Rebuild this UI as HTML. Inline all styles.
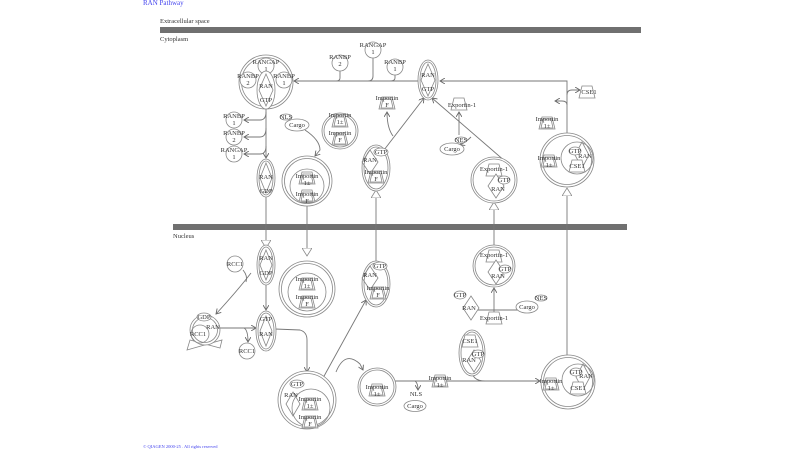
<!DOCTYPE html>
<html><head><meta charset="utf-8"><style>
html,body{margin:0;padding:0;background:#fff;width:800px;height:450px;overflow:hidden}
svg{display:block}
text{font-family:"Liberation Serif",serif;font-size:6.5px;fill:#333;text-anchor:middle}
.s{fill:none;stroke:#888;stroke-width:0.8}
.l{fill:none;stroke:#777;stroke-width:0.9}
.w{fill:#fff;stroke:#888;stroke-width:0.8}
</style></head><body>
<svg width="800" height="450" viewBox="0 0 800 450">
<defs>
<marker id="a" markerWidth="6" markerHeight="6" refX="5" refY="3" orient="auto" markerUnits="userSpaceOnUse"><path d="M0,0 L5,3 L0,6" fill="none" stroke="#666" stroke-width="0.9"/></marker>
<marker id="t" markerWidth="10" markerHeight="10" refX="8" refY="5" orient="auto" markerUnits="userSpaceOnUse"><path d="M0,0 L8,5 L0,10 Z" fill="#fff" stroke="#888" stroke-width="0.8"/></marker>
<g id="trap"><path d="M-5,-6 L5,-6 L8,6 L-8,6 Z" class="w"/><path d="M-4,-4 L4,-4 L6,5 L-6,5 Z" class="s"/></g>
<g id="trap1"><path d="M-5,-6 L5,-6 L8,6 L-8,6 Z" class="w"/></g>
<g id="dia"><path d="M0,-12 L8,0 L0,12 L-8,0 Z" class="w"/></g>
</defs>
<text x="143" y="5" style="fill:#4444ee;font-size:7px;text-anchor:start">RAN Pathway</text>
<text x="160" y="23" style="text-anchor:start">Extracellular space</text>
<rect x="160" y="27" width="481" height="6" fill="#707070"/>
<text x="160" y="41" style="text-anchor:start">Cytoplasm</text>
<rect x="173" y="224" width="454" height="6" fill="#707070"/>
<text x="173" y="238" style="text-anchor:start">Nucleus</text>
<text x="143" y="448" style="fill:#4444ee;font-size:4.5px;text-anchor:start">© QIAGEN 2000-25 . All rights reserved</text>

<!-- connectors cytoplasm -->
<path class="l" d="M567,134 L567,81 L440,81" marker-end="url(#a)"/>
<path class="l" d="M418,81 L294,81" marker-end="url(#a)"/>
<path class="l" d="M340,71 L340,78 Q340,81 336,81"/>
<path class="l" d="M373,58 L373,76 Q373,81 368,81"/>
<path class="l" d="M395,75 L395,78 Q395,81 390,81"/>
<path class="l" d="M567,95 Q567,90 572,90 L580,90" marker-end="url(#a)"/>
<path class="l" d="M567,105 Q567,101 562,101 L555,101" marker-end="url(#a)"/>
<path class="l" d="M266,109 L266,158" marker-end="url(#a)"/>
<path class="l" d="M266,112 Q266,120 260,120 L244,120" marker-end="url(#a)"/>
<path class="l" d="M266,128 Q266,137 260,137 L244,137" marker-end="url(#a)"/>
<path class="l" d="M266,146 Q266,154 260,154 L244,154" marker-end="url(#a)"/>
<path class="l" d="M305,130 Q320,140 320,150 L315,156" marker-end="url(#a)"/>
<path class="l" d="M384,150 L424,98" marker-end="url(#a)"/>
<path class="l" d="M393,136 Q387,128 387,112" marker-end="url(#a)"/>
<path class="l" d="M506,162 L432,98" marker-end="url(#a)"/>
<path class="l" d="M459,135 L459,112" marker-end="url(#a)"/>
<path class="l" d="M471,137 Q466,142 460,145" marker-end="url(#a)"/>
<path class="l" d="M266,196 L266,248" marker-end="url(#t)"/>
<path class="l" d="M307,206 L307,256" marker-end="url(#t)"/>
<path class="l" d="M376,262 L376,190" marker-end="url(#t)"/>
<path class="l" d="M494,246 L494,202" marker-end="url(#t)"/>
<path class="l" d="M567,360 L567,188" marker-end="url(#t)"/>
<!-- nucleus connectors -->
<path class="l" d="M266,284 L266,310" marker-end="url(#a)"/>
<path class="l" d="M251,273 Q238,290 216,314" marker-end="url(#a)"/>
<path class="l" d="M243,270 Q248,276 246,282"/>
<path class="l" d="M218,328 L256,328" marker-end="url(#a)"/>
<path class="l" d="M244,328 Q248,330 248,342" marker-end="url(#a)"/>
<path class="l" d="M275,329 L300,330 Q307,332 307,340 L307,372" marker-end="url(#a)"/>
<path class="l" d="M307,262 L307,280"/>
<path class="l" d="M323,378 L366,300" marker-end="url(#a)"/>
<path class="l" d="M336,372 Q345,350 360,364 L363,370" marker-end="url(#a)"/>
<path class="l" d="M395,381 L540,381" marker-end="url(#a)"/>
<path class="l" d="M415,381 Q418,383 418,390" marker-end="url(#a)"/>
<path class="l" d="M472,370 Q472,381 485,381"/>
<path class="l" d="M478,310 L518,310"/>
<path class="l" d="M494,312 L494,288" marker-end="url(#a)"/>

<!-- Complex A -->
<circle cx="266" cy="82" r="27" class="w"/><circle cx="266" cy="82" r="24.5" class="s"/>
<circle cx="266" cy="66" r="8" class="w"/><text x="266" y="64">RANGAP</text><text x="266" y="71">1</text>
<circle cx="248" cy="80" r="8" class="w"/><text x="248" y="78">RANBP</text><text x="248" y="85">2</text>
<circle cx="284" cy="80" r="8" class="w"/><text x="284" y="78">RANBP</text><text x="284" y="85">1</text>
<ellipse cx="266" cy="90" rx="9" ry="19" class="w"/><path d="M266,74 L273,90 L266,106 L259,90 Z" class="s"/>
<text x="266" y="88">RAN</text><text x="266" y="102">GTP</text>
<!-- top small -->
<circle cx="340" cy="63" r="8" class="w"/><text x="340" y="59">RANBP</text><text x="340" y="66">2</text>
<circle cx="373" cy="50" r="8" class="w"/><text x="373" y="47">RANGAP</text><text x="373" y="54">1</text>
<circle cx="395" cy="67" r="8" class="w"/><text x="395" y="64">RANBP</text><text x="395" y="71">1</text>
<!-- RAN GTP top -->
<ellipse cx="428" cy="80" rx="10" ry="20" class="w"/><ellipse cx="428" cy="80" rx="8" ry="18" class="s"/><path d="M428,64 L435,80 L428,96 L421,80 Z" class="s"/>
<text x="428" y="77">RAN</text><text x="428" y="91">GTP</text>
<!-- left list -->
<circle cx="234" cy="120" r="8" class="w"/><text x="234" y="118">RANBP</text><text x="234" y="125">1</text>
<circle cx="234" cy="137" r="8" class="w"/><text x="234" y="135">RANBP</text><text x="234" y="142">2</text>
<circle cx="234" cy="154" r="8" class="w"/><text x="234" y="152">RANGAP</text><text x="234" y="159">1</text>
<!-- RAN GDP -->
<ellipse cx="266" cy="178" rx="9" ry="19" class="w"/><ellipse cx="266" cy="178" rx="7" ry="17" class="s"/><path d="M266,163 L272,178 L266,193 L260,178 Z" class="s"/>
<text x="266" y="179">RAN</text><text x="266" y="193">GDP</text>
<!-- NLS cargo -->
<ellipse cx="297" cy="125" rx="12" ry="6" class="w"/><text x="297" y="127">Cargo</text>
<ellipse cx="286" cy="117" rx="6" ry="3" class="w"/><text x="286" y="119">NLS</text>
<!-- importin complex cyto -->
<circle cx="340" cy="131" r="18" class="w"/><circle cx="340" cy="131" r="16" class="s"/>
<use href="#trap" x="340" y="121"/><use href="#trap" x="340" y="139"/>
<text x="340" y="117">Importin</text><text x="340" y="124">1±</text><text x="340" y="135">Importin</text><text x="340" y="142">F</text>
<!-- complex B -->
<circle cx="307" cy="181" r="25" class="w"/><circle cx="307" cy="181" r="22.5" class="s"/><circle cx="307" cy="186" r="17" class="s"/>
<use href="#trap" x="307" y="178"/><use href="#trap" x="307" y="196"/>
<text x="307" y="178">Importin</text><text x="307" y="185">1±</text><text x="307" y="196">Importin</text><text x="307" y="203">F</text>
<!-- complex C -->
<ellipse cx="376" cy="168" rx="14" ry="23" class="w"/><ellipse cx="376" cy="168" rx="12" ry="21" class="s"/>
<path d="M370,150 L378,162 L370,174 L362,162 Z" class="s"/><use href="#trap" x="376" y="177"/>
<ellipse cx="381" cy="152" rx="7" ry="4" class="w"/><text x="381" y="154">GTP</text>
<text x="370" y="162">RAN</text><text x="376" y="174">Importin</text><text x="376" y="181">F</text>
<use href="#trap" x="387" y="103"/><text x="387" y="100">Importin</text><text x="387" y="107">F</text>
<!-- Exportin / NES -->
<use href="#trap1" x="459" y="104"/><text x="462" y="107">Exportin-1</text>
<ellipse cx="452" cy="149" rx="12" ry="6" class="w"/><text x="452" y="151">Cargo</text>
<ellipse cx="461" cy="140" rx="6" ry="3" class="w"/><text x="461" y="142">NES</text>
<!-- complex D -->
<circle cx="494" cy="180" r="23" class="w"/><circle cx="494" cy="180" r="21" class="s"/>
<use href="#trap1" x="494" y="170"/><use href="#dia" x="496" y="186"/>
<text x="494" y="171">Exportin-1</text><ellipse cx="504" cy="180" rx="6" ry="4" class="w"/><text x="504" y="182">GTP</text><text x="498" y="191">RAN</text>
<!-- CSE1 / Importin top right -->
<use href="#trap1" x="587" y="92"/><text x="589" y="94">CSE1</text>
<use href="#trap" x="547" y="123"/><text x="547" y="121">Importin</text><text x="547" y="128">1±</text>
<!-- complex E -->
<circle cx="567" cy="160" r="27" class="w"/><circle cx="567" cy="160" r="24.5" class="s"/><circle cx="577" cy="158" r="16" class="s"/>
<use href="#trap" x="549" y="161"/><text x="549" y="160">Importin</text><text x="549" y="167">1±</text>
<path d="M582,142 L589,155 L582,168 L575,155 Z" class="s"/><use href="#trap1" x="577" y="166"/>
<ellipse cx="575" cy="151" rx="6" ry="4" class="w"/><text x="575" y="153">GTP</text><text x="585" y="158">RAN</text><text x="577" y="168">CSE1</text>

<!-- Nucleus -->
<circle cx="235" cy="264" r="8" class="w"/><text x="235" y="266">RCC1</text>
<ellipse cx="266" cy="265" rx="9" ry="20" class="w"/><ellipse cx="266" cy="265" rx="7" ry="18" class="s"/><path d="M266,250 L272,265 L266,280 L260,265 Z" class="s"/>
<text x="266" y="260">RAN</text><text x="266" y="275">GDP</text>
<circle cx="307" cy="289" r="28" class="w"/><circle cx="307" cy="289" r="25.5" class="s"/><circle cx="307" cy="292" r="19" class="s"/>
<use href="#trap" x="307" y="284"/><use href="#trap" x="307" y="302"/>
<text x="307" y="281">Importin</text><text x="307" y="288">1±</text><text x="307" y="299">Importin</text><text x="307" y="306">F</text>
<ellipse cx="376" cy="284" rx="14" ry="23" class="w"/><ellipse cx="376" cy="284" rx="12" ry="21" class="s"/>
<path d="M370,266 L378,278 L370,290 L362,278 Z" class="s"/><use href="#trap" x="378" y="293"/>
<ellipse cx="380" cy="266" rx="7" ry="4" class="w"/><text x="380" y="268">GTP</text><text x="370" y="277">RAN</text><text x="378" y="290">Importin</text><text x="378" y="297">F</text>
<circle cx="494" cy="266" r="21" class="w"/><circle cx="494" cy="266" r="19" class="s"/>
<use href="#trap1" x="494" y="256"/><use href="#dia" x="496" y="272"/>
<text x="494" y="257">Exportin-1</text><ellipse cx="505" cy="269" rx="6" ry="4" class="w"/><text x="505" y="271">GTP</text><text x="498" y="278">RAN</text>
<ellipse cx="460" cy="295" rx="6" ry="4" class="w"/><text x="460" y="297">GTP</text>
<use href="#dia" x="471" y="308"/><text x="469" y="310">RAN</text>
<use href="#trap1" x="494" y="318"/><text x="494" y="320">Exportin-1</text>
<ellipse cx="527" cy="307" rx="11" ry="6" class="w"/><text x="527" y="309">Cargo</text>
<ellipse cx="541" cy="298" rx="6" ry="3" class="w"/><text x="541" y="300">NES</text>
<!-- RCC1 complex -->
<path d="M187,350 L222,340 L220,348 L190,340 Z" class="s"/>
<circle cx="205" cy="330" r="15" class="w"/><circle cx="205" cy="330" r="12.5" class="s"/><circle cx="200" cy="334" r="9" class="s"/>
<ellipse cx="204" cy="317" rx="7" ry="4" class="w"/><text x="204" y="319">GDP</text>
<text x="213" y="329">RAN</text><text x="198" y="336">RCC1</text>
<circle cx="247" cy="351" r="8" class="w"/><text x="247" y="353">RCC1</text>
<ellipse cx="266" cy="331" rx="10" ry="20" class="w"/><ellipse cx="266" cy="331" rx="8" ry="18" class="s"/><path d="M266,316 L272,331 L266,346 L260,331 Z" class="s"/>
<text x="266" y="321">GTP</text><text x="266" y="336">RAN</text>
<ellipse cx="472" cy="353" rx="13" ry="23" class="w"/><ellipse cx="472" cy="353" rx="11" ry="21" class="s"/>
<use href="#trap1" x="470" y="341"/><path d="M474,350 L481,361 L474,372 L467,361 Z" class="s"/>
<text x="470" y="343">CSE1</text><ellipse cx="478" cy="354" rx="6" ry="4" class="w"/><text x="478" y="356">GTP</text><text x="469" y="362">RAN</text>
<!-- complex I -->
<circle cx="307" cy="400" r="29" class="w"/><circle cx="307" cy="400" r="26.5" class="s"/><circle cx="311" cy="408" r="19" class="s"/>
<path d="M293,392 L300,404 L293,416 L286,404 Z" class="s"/>
<ellipse cx="297" cy="384" rx="7" ry="4" class="w"/><text x="297" y="386">GTP</text><text x="291" y="397">RAN</text>
<use href="#trap" x="310" y="404"/><use href="#trap" x="310" y="422"/>
<text x="310" y="401">Importin</text><text x="310" y="408">1±</text><text x="310" y="419">Importin</text><text x="310" y="426">F</text>
<!-- complex J -->
<circle cx="377" cy="387" r="19" class="w"/><circle cx="377" cy="387" r="17" class="s"/>
<use href="#trap" x="377" y="390"/><text x="377" y="389">Importin</text><text x="377" y="396">1±</text>
<use href="#trap" x="440" y="381"/><text x="440" y="380">Importin</text><text x="440" y="387">1±</text>
<text x="416" y="396">NLS</text>
<ellipse cx="415" cy="406" rx="11" ry="5.5" class="w"/><text x="415" y="408">Cargo</text>
<!-- complex K -->
<circle cx="568" cy="382" r="27" class="w"/><circle cx="568" cy="382" r="24.5" class="s"/><circle cx="578" cy="380" r="16" class="s"/>
<use href="#trap" x="551" y="384"/><text x="551" y="383">Importin</text><text x="551" y="390">1±</text>
<path d="M583,364 L590,377 L583,390 L576,377 Z" class="s"/><use href="#trap1" x="578" y="388"/>
<ellipse cx="576" cy="372" rx="6" ry="4" class="w"/><text x="576" y="374">GTP</text><text x="586" y="378">RAN</text><text x="578" y="390">CSE1</text>
</svg>
</body></html>
